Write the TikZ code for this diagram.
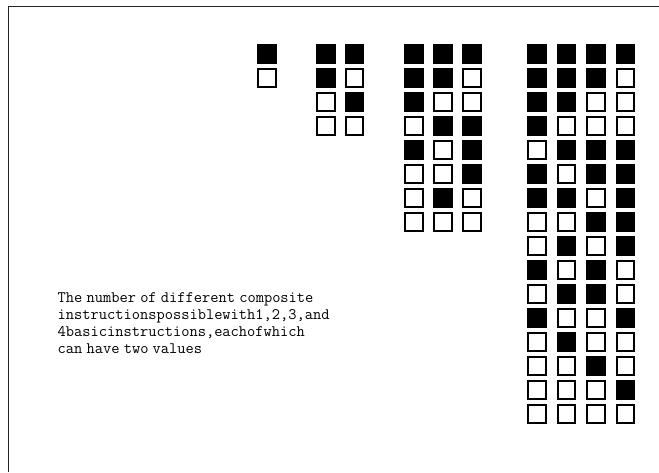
\documentclass[tikz,border=0pt]{standalone}
\usepackage{fontspec}
\newcommand\capfont{\ttfamily\fontsize{16}{16.7}\selectfont\fontdimen2\font=4.2pt\relax}
\begin{document}
\begin{tikzpicture}[x=1pt,y=-1pt,
  s1/.style={rectangle,fill=black,draw=none,minimum size=19.5pt,inner sep=0pt,outer sep=0pt},
  s0/.style={rectangle,fill=white,draw=black,line width=2pt,minimum size=17.5pt,inner sep=0pt},
  frameline/.style={line width=1pt,black!85},
  caption/.style={anchor=base west,align=left,inner sep=0pt,font=\capfont}]
\useasboundingbox (0,0) rectangle (659,472);
\coordinate (fbl) at (8.5,472);
\coordinate (ftl) at (8.5,6.5);
\coordinate (ftr) at (659,6.5);
\draw[frameline] (fbl) -- (ftl) -- (ftr);
% group of one
\foreach \row [count=\r] in {{1},{0}}{
  \foreach \v [count=\c] in \row {
    \node[s\v] (ga-\r-\c) at ({257+(\c-1)*28.5+9.75},{44+(\r-1)*24+9.75}) {};
  }
}
% group of two
\foreach \row [count=\r] in {{1,1},{1,0},{0,1},{0,0}}{
  \foreach \v [count=\c] in \row {
    \node[s\v] (gb-\r-\c) at ({316+(\c-1)*28.5+9.75},{44+(\r-1)*24+9.75}) {};
  }
}
% group of three
\foreach \row [count=\r] in {{1,1,1},{1,1,0},{1,0,0},{0,1,1},{1,0,1},{0,0,1},{0,1,0},{0,0,0}}{
  \foreach \v [count=\c] in \row {
    \node[s\v] (gc-\r-\c) at ({404+(\c-1)*29+9.75},{44+(\r-1)*24+9.75}) {};
  }
}
% group of four
\foreach \row [count=\r] in {{1,1,1,1},{1,1,1,0},{1,1,0,0},{1,0,0,0},{0,1,1,1},{1,0,1,1},{1,1,0,1},{0,0,1,1},{0,1,0,1},{1,0,1,0},{0,1,1,0},{1,0,0,1},{0,1,0,0},{0,0,1,0},{0,0,0,1},{0,0,0,0}}{
  \foreach \v [count=\c] in \row {
    \node[s\v] (gd-\r-\c) at ({527+(\c-1)*29.5+9.75},{44+(\r-1)*24+9.75}) {};
  }
}
\node[caption] (cap) at (57.5,353) {The number of different composite\\instructionspossiblewith1,2,3,and\\4basicinstructions,eachofwhich\\can have two values};
\end{tikzpicture}
\end{document}
